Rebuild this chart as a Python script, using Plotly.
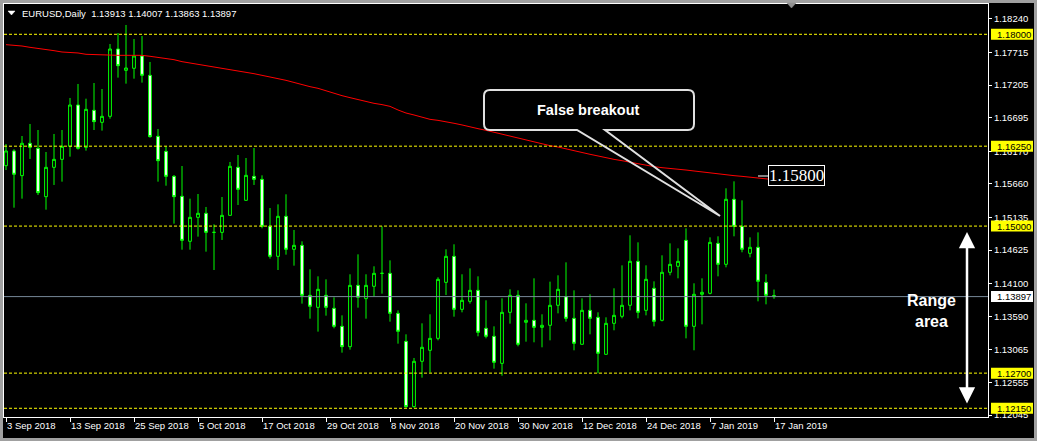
import plotly.graph_objects as go

# ---------------- data ----------------
dates = [
    "2018-09-03", "2018-09-04", "2018-09-05", "2018-09-06", "2018-09-07", "2018-09-10", "2018-09-11",
    "2018-09-12", "2018-09-13", "2018-09-14", "2018-09-17", "2018-09-18", "2018-09-19", "2018-09-20",
    "2018-09-21", "2018-09-24", "2018-09-25", "2018-09-26", "2018-09-27", "2018-09-28",
    "2018-10-01", "2018-10-02", "2018-10-03", "2018-10-04", "2018-10-05", "2018-10-08", "2018-10-09",
    "2018-10-10", "2018-10-11", "2018-10-12", "2018-10-15", "2018-10-16", "2018-10-17", "2018-10-18",
    "2018-10-19", "2018-10-22", "2018-10-23", "2018-10-24", "2018-10-25", "2018-10-26", "2018-10-29",
    "2018-10-30", "2018-10-31",
    "2018-11-01", "2018-11-02", "2018-11-05", "2018-11-06", "2018-11-07", "2018-11-08", "2018-11-09",
    "2018-11-12", "2018-11-13", "2018-11-14", "2018-11-15", "2018-11-16", "2018-11-19", "2018-11-20",
    "2018-11-21", "2018-11-22", "2018-11-23", "2018-11-26", "2018-11-27", "2018-11-28", "2018-11-29",
    "2018-11-30",
    "2018-12-03", "2018-12-04", "2018-12-05", "2018-12-06", "2018-12-07", "2018-12-10", "2018-12-11",
    "2018-12-12", "2018-12-13", "2018-12-14", "2018-12-17", "2018-12-18", "2018-12-19", "2018-12-20",
    "2018-12-21", "2018-12-24", "2018-12-26", "2018-12-27", "2018-12-28", "2018-12-31",
    "2019-01-02", "2019-01-03", "2019-01-04", "2019-01-07", "2019-01-08", "2019-01-09", "2019-01-10",
    "2019-01-11", "2019-01-14", "2019-01-15", "2019-01-16", "2019-01-17",
]

opens = [
    1.15945, 1.16175, 1.15789, 1.16295, 1.16216, 1.15460, 1.15919, 1.16044, 1.16248, 1.16894,
    1.16232, 1.16811, 1.16623, 1.16717, 1.17770, 1.17436, 1.17468, 1.17661, 1.17358, 1.16404,
    1.16169, 1.15778, 1.15466, 1.14762, 1.15137, 1.15200, 1.14902, 1.14902, 1.15168, 1.15919,
    1.15403, 1.15778, 1.15731, 1.14996, 1.14527, 1.15153, 1.14637, 1.14699, 1.13917, 1.13729,
    1.13917, 1.13714, 1.13432, 1.13114, 1.14073, 1.13865, 1.14058, 1.14261, 1.14261, 1.13635,
    1.13197, 1.12176, 1.12885, 1.13057, 1.13244, 1.14120, 1.14527, 1.13698, 1.13823, 1.13995,
    1.13401, 1.13276, 1.12853, 1.13651, 1.13917, 1.13495, 1.13526, 1.13416, 1.13448, 1.13761,
    1.13896, 1.13557, 1.13151, 1.13682, 1.13573, 1.12994, 1.13479, 1.13589, 1.13761, 1.14449,
    1.13682, 1.14027, 1.13526, 1.14277, 1.14371, 1.14777, 1.13432, 1.13933, 1.13948, 1.14730,
    1.14402, 1.15419, 1.14996, 1.14574, 1.14668, 1.14120, 1.13913,
]
highs = [
    1.16284, 1.16201, 1.16409, 1.16597, 1.16503, 1.16159, 1.16441, 1.16503, 1.17004, 1.17223,
    1.16993, 1.17238, 1.17144, 1.17848, 1.18020, 1.18146, 1.17927, 1.17974, 1.17567, 1.16519,
    1.16253, 1.15799, 1.15940, 1.15429, 1.15502, 1.15299, 1.15028, 1.15455, 1.16003, 1.16112,
    1.16065, 1.16222, 1.15794, 1.15283, 1.15340, 1.15497, 1.14939, 1.14762, 1.14324, 1.14214,
    1.14167, 1.13886, 1.13604, 1.14246, 1.14558, 1.14246, 1.14371, 1.14996, 1.14464, 1.13682,
    1.13307, 1.12937, 1.13479, 1.13620, 1.14199, 1.14637, 1.14715, 1.14246, 1.14339, 1.14214,
    1.13839, 1.13432, 1.13870, 1.14011, 1.13995, 1.13792, 1.14183, 1.13620, 1.14131, 1.14230,
    1.14433, 1.13995, 1.13870, 1.13933, 1.13651, 1.13573, 1.14027, 1.14386, 1.14856, 1.14746,
    1.14386, 1.14136, 1.14543, 1.14730, 1.14652, 1.14965, 1.14105, 1.14183, 1.14824, 1.14840,
    1.15591, 1.15700, 1.15403, 1.14824, 1.14902, 1.14246, 1.14007,
]
lows = [
    1.15877, 1.15288, 1.15429, 1.16050, 1.15486, 1.15257, 1.15643, 1.15695, 1.16086, 1.16196,
    1.16180, 1.16503, 1.16493, 1.16680, 1.17322, 1.17228, 1.17306, 1.17244, 1.16383, 1.15695,
    1.15632, 1.15038, 1.14631, 1.14631, 1.14835, 1.14600, 1.14313, 1.14783, 1.15168, 1.15330,
    1.15403, 1.15643, 1.14965, 1.14491, 1.14313, 1.14553, 1.14381, 1.13787, 1.13552, 1.13349,
    1.13599, 1.13401, 1.13020, 1.13067, 1.13724, 1.13552, 1.13901, 1.13943, 1.13505, 1.13161,
    1.12160, 1.12160, 1.12629, 1.12707, 1.13213, 1.13922, 1.13583, 1.13651, 1.13787, 1.13276,
    1.13244, 1.12770, 1.12660, 1.13474, 1.13119, 1.13192, 1.13182, 1.13104, 1.13213, 1.13635,
    1.13505, 1.13057, 1.13151, 1.13307, 1.12697, 1.12994, 1.13370, 1.13557, 1.13682, 1.13557,
    1.13604, 1.13432, 1.13510, 1.14230, 1.14183, 1.13244, 1.13057, 1.13463, 1.13933, 1.14214,
    1.14355, 1.14840, 1.14590, 1.14511, 1.13823, 1.13776, 1.13863,
]
closes = [
    1.16175, 1.15810, 1.16295, 1.16232, 1.15523, 1.15919, 1.16044, 1.16248, 1.16894, 1.16216,
    1.16826, 1.16634, 1.16717, 1.17770, 1.17509, 1.17473, 1.17661, 1.17358, 1.16399, 1.16023,
    1.15778, 1.15460, 1.14777, 1.15137, 1.15200, 1.14902, 1.14902, 1.15168, 1.15935, 1.15575,
    1.15794, 1.15731, 1.14996, 1.14527, 1.15153, 1.14637, 1.14699, 1.13917, 1.13745, 1.14011,
    1.13729, 1.13432, 1.13114, 1.14073, 1.13886, 1.14073, 1.14261, 1.14261, 1.13635, 1.13354,
    1.12176, 1.12885, 1.13104, 1.13244, 1.14167, 1.14527, 1.13698, 1.13839, 1.13995, 1.13338,
    1.13276, 1.12869, 1.13651, 1.13917, 1.13151, 1.13526, 1.13416, 1.13448, 1.13761, 1.14011,
    1.13557, 1.13166, 1.13682, 1.13557, 1.13010, 1.13479, 1.13604, 1.13761, 1.14449, 1.13651,
    1.14167, 1.13510, 1.14277, 1.14402, 1.14449, 1.13432, 1.13933, 1.13964, 1.14746, 1.14402,
    1.15419, 1.14996, 1.14637, 1.14668, 1.14136, 1.13917, 1.13897,
]
ma_values = [
    1.17838, 1.17828, 1.17817, 1.17796, 1.17781, 1.17760, 1.17744, 1.17723, 1.17718, 1.17708,
    1.17687, 1.17682, 1.17671, 1.17671, 1.17671, 1.17671, 1.17671, 1.17671, 1.17656, 1.17640,
    1.17619, 1.17603, 1.17572, 1.17551, 1.17530, 1.17509, 1.17489, 1.17468, 1.17452, 1.17436,
    1.17405, 1.17384, 1.17358, 1.17327, 1.17306, 1.17280, 1.17244, 1.17212, 1.17181, 1.17155,
    1.17113, 1.17072, 1.17040, 1.17009, 1.16978, 1.16946, 1.16920, 1.16900, 1.16873, 1.16816,
    1.16769, 1.16738, 1.16706, 1.16670, 1.16654, 1.16634, 1.16608, 1.16582, 1.16550, 1.16524,
    1.16498, 1.16467, 1.16441, 1.16409, 1.16373, 1.16352, 1.16316, 1.16284, 1.16258, 1.16237,
    1.16206, 1.16175, 1.16154, 1.16123, 1.16097, 1.16065, 1.16044, 1.16023, 1.15997, 1.15971,
    1.15950, 1.15930, 1.15914, 1.15898, 1.15888, 1.15877, 1.15862, 1.15846, 1.15830, 1.15815,
    1.15799, 1.15789, 1.15778, 1.15763, 1.15747, 1.15737, 1.15726,
]

levels = [1.18000, 1.16250, 1.15000, 1.12700, 1.12150]
price_ticks = [1.18240, 1.17715, 1.17205, 1.16695, 1.16170, 1.15660, 1.15135,
               1.14625, 1.14100, 1.13590, 1.13065, 1.12555, 1.12045]
tick_dates = ["2018-09-03", "2018-09-13", "2018-09-25", "2018-10-05", "2018-10-17",
              "2018-10-29", "2018-11-08", "2018-11-20", "2018-11-30", "2018-12-12",
              "2018-12-24", "2019-01-07", "2019-01-17"]
tick_text = ["3 Sep 2018", "13 Sep 2018", "25 Sep 2018", "5 Oct 2018", "17 Oct 2018",
             "29 Oct 2018", "8 Nov 2018", "20 Nov 2018", "30 Nov 2018", "12 Dec 2018",
             "24 Dec 2018", "7 Jan 2019", "17 Jan 2019"]
price_label = "1.15800"
symbol_title = "EURUSD,Daily"
callout_text = "False breakout"
range_text = "Range<br>area"

# ---------------- layout geometry (pixels) ----------------
W, H = 1037, 441
ML, MR, MT, MB = 4, 49, 4, 24
PW, PH = W - ML - MR, H - MT - MB


def px(x):
    return (x - ML) / PW


def py(y):
    return (H - MB - y) / PH


def path(points, close=False):
    # one command per coordinate group (plotly ignores implicit repeats)
    s = ""
    for cmd, pts in points:
        if cmd == "Q":
            s += "Q " + " ".join(f"{px(a):.5f},{py(b):.5f}" for a, b in pts) + " "
        else:
            for a, b in pts:
                s += f"{cmd} {px(a):.5f},{py(b):.5f} "
    return s + ("Z" if close else "")


FONT = "Liberation Sans, Arial, sans-serif"
GREEN = "#00ff00"
YELLOW = "#ffff00"

fig = go.Figure()
fig.add_trace(go.Candlestick(
    x=dates, open=opens, high=highs, low=lows, close=closes,
    increasing=dict(line=dict(color=GREEN, width=1), fillcolor="black"),
    decreasing=dict(line=dict(color=GREEN, width=1), fillcolor="white"),
    whiskerwidth=0, hoverinfo="skip", showlegend=False,
))
fig.add_trace(go.Scatter(
    x=dates, y=ma_values, mode="lines", line=dict(color="#ff0000", width=1),
    hoverinfo="skip", showlegend=False,
))

shapes = []
annotations = []

# horizontal levels
for lv in levels:
    shapes.append(dict(type="line", xref="paper", x0=0, x1=1, yref="y", y0=lv, y1=lv,
                       line=dict(color=YELLOW, width=1, dash="3px,2px")))
    shapes.append(dict(type="rect", xref="paper", xsizemode="pixel", xanchor=1, x0=3, x1=45,
                       yref="y", ysizemode="pixel", yanchor=lv, y0=-5.5, y1=5.5,
                       fillcolor=YELLOW, line=dict(width=0)))
    annotations.append(dict(xref="paper", x=px(995), xanchor="left", yref="y", y=lv,
                            yanchor="middle", text=f"{lv:.5f}", showarrow=False,
                            font=dict(family=FONT, size=9.5, color="black")))

# bid line
bid = closes[-1]
shapes.append(dict(type="line", xref="paper", x0=0, x1=1, yref="y", y0=bid, y1=bid,
                   line=dict(color="#778899", width=1)))
shapes.append(dict(type="rect", xref="paper", xsizemode="pixel", xanchor=1, x0=3, x1=45,
                   yref="y", ysizemode="pixel", yanchor=bid, y0=-5.5, y1=5.5,
                   fillcolor="white", line=dict(width=0)))
annotations.append(dict(xref="paper", x=px(995), xanchor="left", yref="y", y=bid,
                        yanchor="middle", text=f"{bid:.5f}", showarrow=False,
                        font=dict(family=FONT, size=9.5, color="black")))

# window frame
shapes.append(dict(type="rect", xref="paper", yref="paper", x0=px(1.5), x1=px(1035.5),
                   y0=py(1.5), y1=py(439.5), line=dict(color="#a0a0a0", width=3)))

# header triangle + chart-shift marker
shapes.append(dict(type="path", xref="paper", yref="paper",
                   path=path([("M", [(8, 11)]), ("L", [(15, 11), (11.5, 15)])], True),
                   fillcolor="white", line=dict(color="white", width=0.5)))
shapes.append(dict(type="path", xref="paper", yref="paper",
                   path=path([("M", [(787, 3)]), ("L", [(796, 3), (791.5, 8)])], True),
                   fillcolor="#909090", line=dict(color="#909090", width=0.5)))

# callout box
shapes.append(dict(type="path", xref="paper", yref="paper",
                   path=path([("M", [(490, 90)]), ("L", [(688, 90)]), ("Q", [(694, 90), (694, 96)]),
                              ("L", [(694, 124)]), ("Q", [(694, 130), (688, 130)]),
                              ("L", [(605, 130), (720, 216), (577, 130), (490, 130)]),
                              ("Q", [(484, 130), (484, 124)]), ("L", [(484, 96)]),
                              ("Q", [(484, 90), (490, 90)])], True),
                   line=dict(color="#e0e0e0", width=2)))
annotations.append(dict(xref="paper", yref="paper", x=px(588), y=py(109.5), text=f"<b>{callout_text}</b>",
                        showarrow=False, xanchor="center", yanchor="middle",
                        font=dict(family=FONT, size=14.5, color="white")))

# price label 1.15800
shapes.append(dict(type="line", xref="paper", yref="paper", x0=px(758), x1=px(768),
                   y0=py(176), y1=py(176), line=dict(color="white", width=1)))
annotations.append(dict(xref="paper", yref="paper", x=px(768), xanchor="left", y=py(175),
                        yanchor="middle", text=price_label, showarrow=False,
                        font=dict(family="Liberation Serif, Times New Roman, serif", size=17, color="white"),
                        bgcolor="black", bordercolor="white", borderwidth=1, borderpad=0))

# range arrow + text
annotations.append(dict(xref="paper", yref="paper", x=px(967), y=py(232), ax=0, ay=405 - 232,
                        text="", showarrow=True, arrowside="end+start", arrowhead=2,
                        startarrowhead=2, arrowsize=1.3, startarrowsize=1.3, arrowwidth=2.5,
                        arrowcolor="white"))
annotations.append(dict(xref="paper", yref="paper", x=px(931), y=py(311), text=f"<b>{range_text}</b>",
                        showarrow=False, xanchor="center", yanchor="middle", align="center",
                        font=dict(family=FONT, size=16, color="white")))

# header text
annotations.append(dict(xref="paper", yref="paper", x=px(20), xanchor="left", y=py(13),
                        yanchor="middle", showarrow=False,
                        text=f"{symbol_title}\u00a0\u00a0{opens[-1]:.5f} {highs[-1]:.5f} {lows[-1]:.5f} {closes[-1]:.5f}",
                        font=dict(family=FONT, size=9.5, color="white")))

y_top = 1.18 + (34.3 - MT) / 6393
y_bot = 1.18 - (H - MB - 34.3) / 6393

fig.update_layout(
    width=W, height=H,
    margin=dict(l=ML, r=MR, t=MT, b=MB, pad=0),
    paper_bgcolor="black", plot_bgcolor="black",
    showlegend=False, boxgap=0.5,
    shapes=shapes, annotations=annotations,
    xaxis=dict(type="category", range=[-0.25, 122.75], tickvals=tick_dates, ticktext=tick_text,
               ticks="outside", ticklen=4, tickcolor="white", tickwidth=1,
               ticklabelposition="outside right",
               tickfont=dict(family=FONT, size=9.5, color="white"),
               showline=True, linecolor="white", linewidth=1, mirror=True,
               showgrid=False, zeroline=False, rangeslider=dict(visible=False), fixedrange=True),
    yaxis=dict(side="right", range=[y_bot, y_top], tickvals=price_ticks,
               ticktext=[f"{v:.5f}" for v in price_ticks],
               ticks="outside", ticklen=3, tickcolor="white", tickwidth=1,
               tickfont=dict(family=FONT, size=9.5, color="white"),
               showline=True, linecolor="white", linewidth=1, mirror=True,
               showgrid=False, zeroline=False, fixedrange=True),
)

fig.write_html("out.html", config={"displayModeBar": False},
               post_script="document.body.style.margin='0';document.body.style.background='black';")
